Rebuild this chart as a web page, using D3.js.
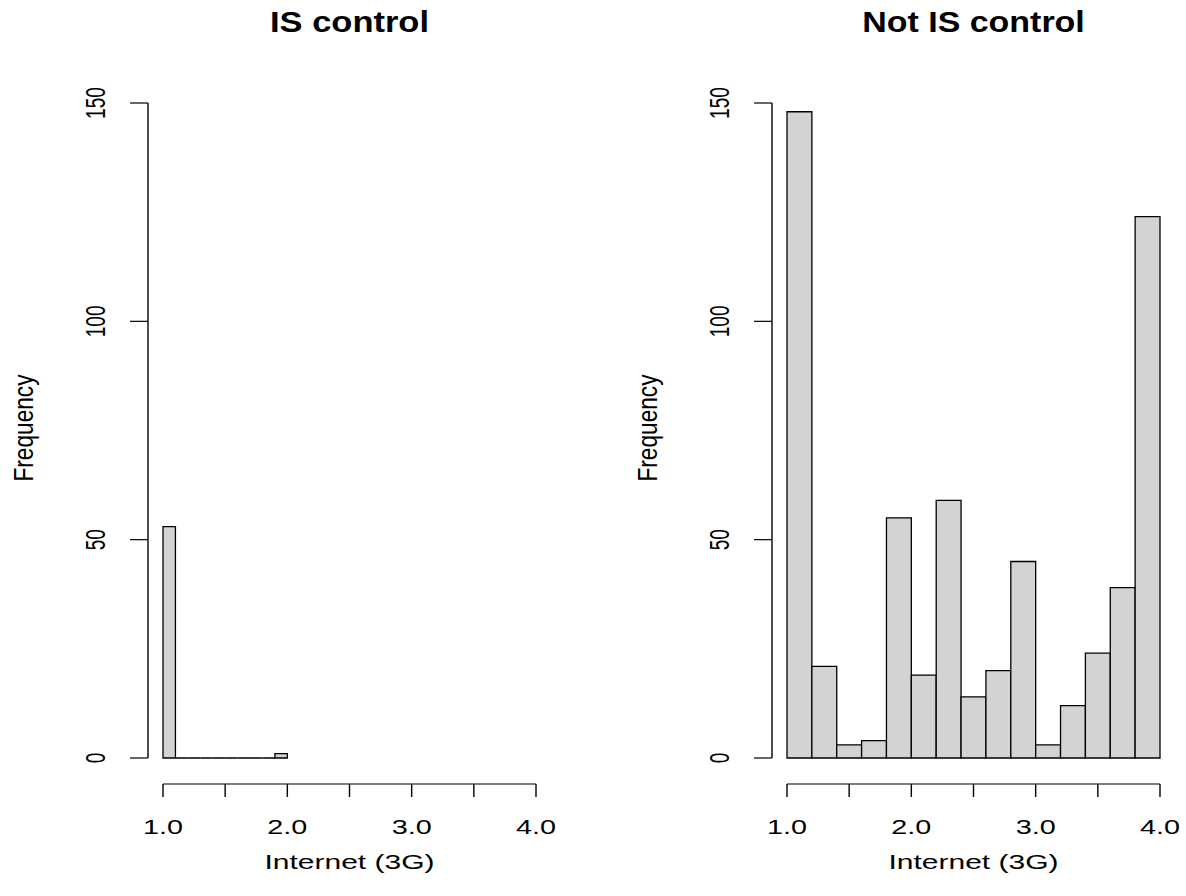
<!DOCTYPE html>
<html>
<head>
<meta charset="utf-8">
<script src="https://cdn.jsdelivr.net/npm/d3@7"></script>
<style>
  html, body { margin: 0; padding: 0; background: #ffffff; }
  svg { display: block; }
  text { font-family: "Liberation Sans", Arial, Helvetica, sans-serif; fill: #000; }
</style>
</head>
<body>
<svg id="chart" width="1186" height="896"></svg>
<script>
// ---- data ----
const panelTitles = ["IS control", "Not IS control"];
const xAxisLabel = "Internet (3G)";
const yAxisLabel = "Frequency";
const leftBreaks = [1.0, 1.1, 1.2, 1.3, 1.4, 1.5, 1.6, 1.7, 1.8, 1.9, 2.0];
const leftCounts = [53, 0, 0, 0, 0, 0, 0, 0, 0, 1];
const rightBreaks = [1.0, 1.2, 1.4, 1.6, 1.8, 2.0, 2.2, 2.4, 2.6, 2.8, 3.0, 3.2, 3.4, 3.6, 3.8, 4.0];
const rightCounts = [148, 21, 3, 4, 55, 19, 59, 14, 20, 45, 3, 12, 24, 39, 124];
const xTicks = [1.0, 1.5, 2.0, 2.5, 3.0, 3.5, 4.0];
const xTickLabels = ["1.0", "2.0", "3.0", "4.0"];
const xTickLabelValues = [1, 2, 3, 4];
const yTicks = [0, 50, 100, 150];
const yTickLabels = ["0", "50", "100", "150"];

const svg = d3.select("#chart");

const panels = [
  { title: panelTitles[0], breaks: leftBreaks, counts: leftCounts, x0: 163, x1: 536, axisX: 148 },
  { title: panelTitles[1], breaks: rightBreaks, counts: rightCounts, x0: 787, x1: 1160, axisX: 772 }
];

const yBase = 758, yTop = 103, xAxisY = 784;

panels.forEach(p => {
  const g = svg.append("g");
  const x = d3.scaleLinear().domain([1, 4]).range([p.x0, p.x1]);
  const y = d3.scaleLinear().domain([0, 150]).range([yBase, yTop]);

  // bars
  const bins = p.counts.map((c, i) => ({ a: p.breaks[i], b: p.breaks[i + 1], c }));
  g.selectAll("path.bar").data(bins).enter().append("path")
    .attr("class", "bar")
    .attr("d", d => `M${x(d.a)},${y(0)}H${x(d.b)}V${y(d.c)}H${x(d.a)}Z`)
    .attr("fill", "#d3d3d3")
    .attr("stroke", "#000")
    .attr("stroke-width", 1.3);

  // x axis
  const xa = g.append("g");
  xa.append("line")
    .attr("x1", x(xTicks[0])).attr("x2", x(xTicks[xTicks.length - 1]))
    .attr("y1", xAxisY).attr("y2", xAxisY)
    .attr("stroke", "#000").attr("stroke-width", 1.2);
  xa.selectAll("line.tick").data(xTicks).enter().append("line")
    .attr("class", "tick")
    .attr("x1", d => x(d)).attr("x2", d => x(d))
    .attr("y1", xAxisY).attr("y2", xAxisY + 13)
    .attr("stroke", "#000").attr("stroke-width", 1.4);
  xa.selectAll("text").data(xTickLabelValues).enter().append("text")
    .attr("x", d => x(d)).attr("y", 834)
    .attr("text-anchor", "middle")
    .attr("font-size", 21)
    .attr("textLength", 40)
    .attr("lengthAdjust", "spacingAndGlyphs")
    .text((d, i) => xTickLabels[i]);

  // y axis
  const ya = g.append("g");
  ya.append("line")
    .attr("x1", p.axisX).attr("x2", p.axisX)
    .attr("y1", y(yTicks[0])).attr("y2", y(yTicks[yTicks.length - 1]))
    .attr("stroke", "#000").attr("stroke-width", 1.4);
  ya.selectAll("line.tick").data(yTicks).enter().append("line")
    .attr("class", "tick")
    .attr("x1", p.axisX).attr("x2", p.axisX - 18)
    .attr("y1", d => y(d)).attr("y2", d => y(d))
    .attr("stroke", "#000").attr("stroke-width", 1.2);
  ya.selectAll("text").data(yTicks).enter().append("text")
    .attr("transform", d => `translate(${p.axisX - 43},${y(d)}) rotate(-90)`)
    .attr("text-anchor", "middle")
    .attr("font-size", 28)
    .attr("textLength", (d, i) => yTickLabels[i].length * 10.6)
    .attr("lengthAdjust", "spacingAndGlyphs")
    .text((d, i) => yTickLabels[i]);

  // axis titles
  const plotCenter = (p.axisX + p.x1 + (p.x0 - p.axisX)) / 2;
  g.append("text")
    .attr("x", plotCenter).attr("y", 869)
    .attr("text-anchor", "middle")
    .attr("font-size", 20)
    .attr("textLength", 170)
    .attr("lengthAdjust", "spacingAndGlyphs")
    .text(xAxisLabel);
  g.append("text")
    .attr("transform", `translate(${p.axisX - 115.5},428) rotate(-90)`)
    .attr("text-anchor", "middle")
    .attr("font-size", 27)
    .attr("textLength", 107)
    .attr("lengthAdjust", "spacingAndGlyphs")
    .text(yAxisLabel);

  // main title
  g.append("text")
    .attr("x", plotCenter).attr("y", 32)
    .attr("text-anchor", "middle")
    .attr("font-size", 29)
    .attr("font-weight", "bold")
    .attr("textLength", p.title.length * 15.9)
    .attr("lengthAdjust", "spacingAndGlyphs")
    .text(p.title);
});
</script>
</body>
</html>
